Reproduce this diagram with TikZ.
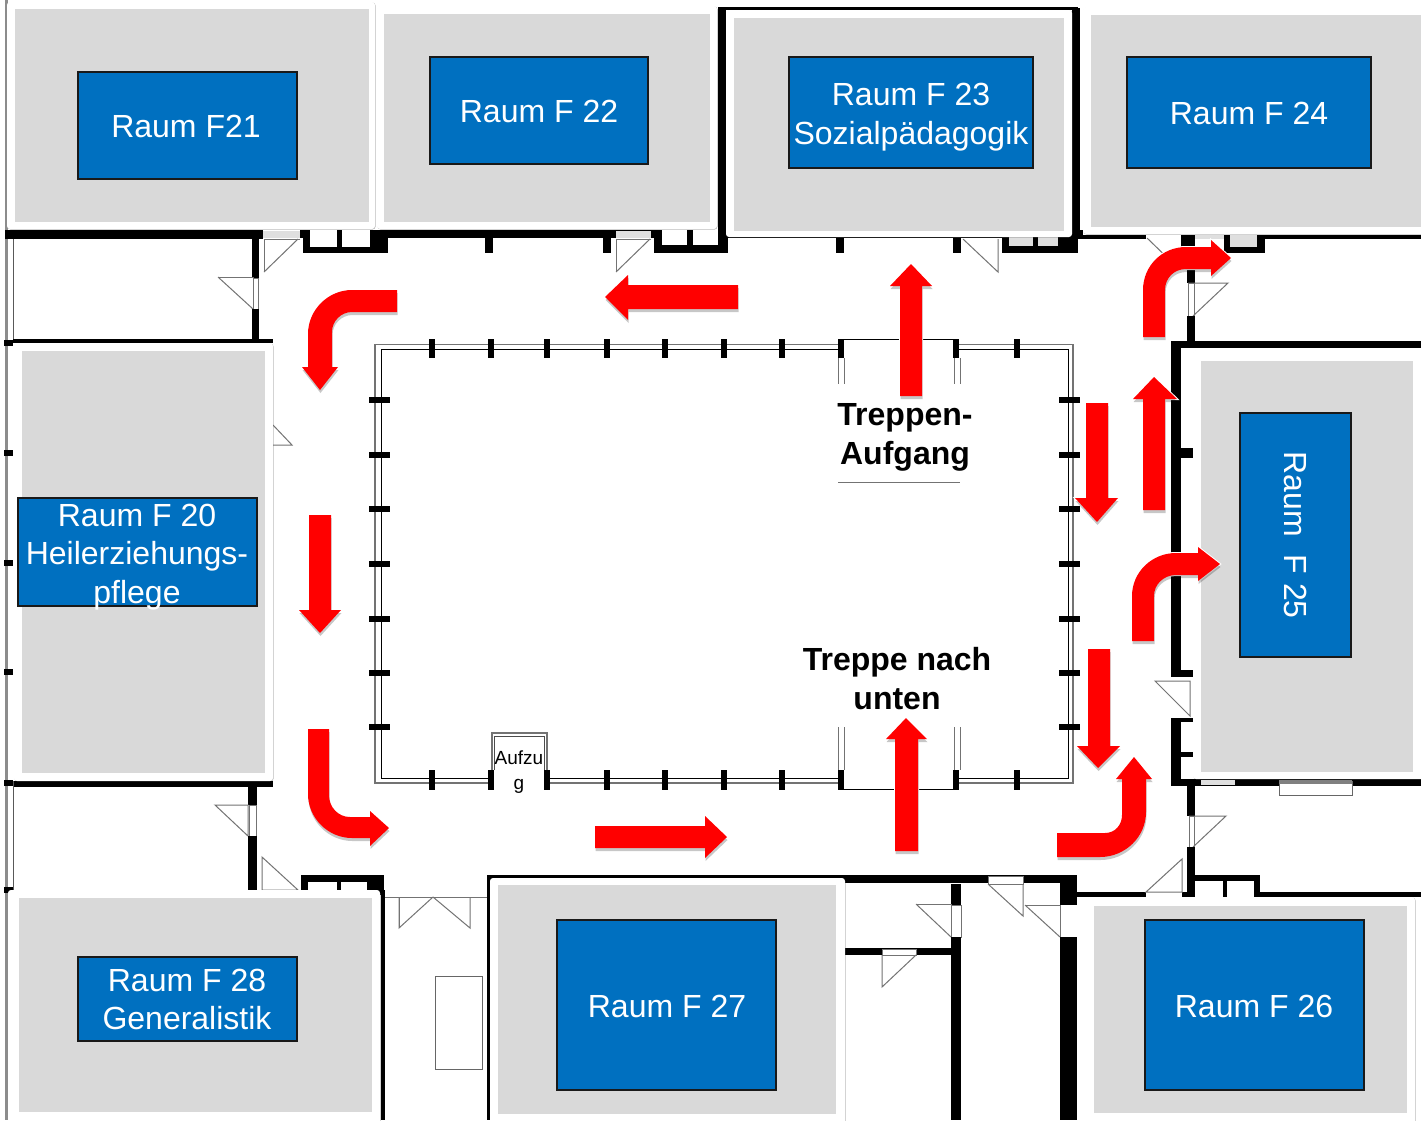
\documentclass[tikz,border=0pt]{standalone}
\usepackage{fontspec}
\setmainfont{Liberation Sans}
\usetikzlibrary{shadows}
\definecolor{roomgray}{RGB}{217,217,217}
\definecolor{roomblue}{RGB}{0,112,192}
\tikzset{
  wallfill/.style={fill=black},
  doorline/.style={draw=black!55,line width=1pt,line join=miter},
  glass/.style={draw=black!60,line width=1pt,fill=white},
  graypane/.style={fill=roomgray!85!white},
  roomshell/.style={fill=white,rounded corners=3pt,drop shadow={shadow xshift=0.5pt,shadow yshift=-0.5pt,fill=black,opacity=.3}},
  roomcore/.style={fill=roomgray},
  labelbox/.style={fill=roomblue,draw=black!90,line width=1.2pt},
  roomtext/.style={text=white,font=\fontsize{32}{38.5}\selectfont,align=center,inner sep=0pt},
  plantext/.style={text=black,font=\bfseries\fontsize{32}{39}\selectfont,align=center,inner sep=0pt},
  flowarrow/.style={fill=red,line join=miter,preaction={draw=white,line width=2pt},drop shadow={shadow xshift=0.5pt,shadow yshift=-3pt,fill=black,opacity=.22}},
}
\newcommand\wl[4]{\fill[wallfill] (#1,#2) rectangle (#3,#4);}
\newcommand\pane[4]{\fill[graypane] (#1,#2) rectangle (#3,#4);}
\newcommand\clr[4]{\fill[white] (#1,#2) rectangle (#3,#4);}
\newcommand\dr[6]{\draw[doorline] (#1,#2) -- (#3,#4) -- (#5,#6);}
\newcommand\roombox[9]{%
  \path[roomshell] (#2,#3) rectangle (#4,#5);
  \fill[roomcore] (#6,#7) rectangle (#8,#9);}
\newcommand\bluebox[4]{\path[labelbox] (#1,#2) rectangle (#3,#4);}
\begin{document}
\begin{tikzpicture}[x=1pt,y=-1pt]
\useasboundingbox (0,0) rectangle (1421,1120);
\fill[white] (0,0) rectangle (1421,1120);

% ---------- outer thin left wall
\draw[black!45,line width=2.4pt] (6.5,0) -- (6.5,1120);
\draw[black!65,line width=1pt] (13.5,238) -- (13.5,343) (13.5,781) -- (13.5,890);
\foreach \yy in {343,453,563,672,783,890} {\wl{4}{\yy-3}{13}{\yy+3}}

% ---------- top wall
\wl{5}{230}{263}{239}
\pane{263}{231}{300}{238}
\wl{300}{230}{1083}{238}
\clr{616}{231}{651}{238}\pane{616}{231}{651}{238}
% alcove 1
\wl{303}{230}{388}{253}
\clr{310}{230}{337}{247}\clr{342}{230}{370}{247}
% alcove 2
\wl{654}{230}{728}{253}
\clr{662}{230}{687}{245}\clr{693}{230}{718}{245}
% alcove 3
\wl{1002}{230}{1078}{253}
\pane{1009}{230}{1033}{246}\pane{1038}{230}{1058}{246}
% stubs top
\foreach \xx in {489,607,840,957} {\wl{\xx-4}{236}{\xx+4}{253}}
% top upper partitions
\wl{718}{8}{726}{237}\wl{718}{7}{1078}{10}\wl{1072}{8}{1080}{237}
% doors top
\dr{264}{272}{264}{239}{300}{239}
\draw[doorline] (264,272) -- (298,239);
\dr{616}{272}{616}{239}{651}{239}
\draw[doorline] (616,272) -- (650,239);
\dr{963}{239}{998}{272}{998}{239}

% ---------- top right
\wl{1078}{235}{1421}{239}
\clr{1146}{235}{1181}{239}
\wl{1181}{235}{1195}{252}
\pane{1195}{235}{1224}{239}
\wl{1224}{235}{1265}{253}
\pane{1230}{235}{1257}{247}
\wl{1187}{239}{1195}{283}
\clr{1188}{283}{1194}{316}
\draw[doorline] (1188,283) rectangle (1194,316);
\dr{1188}{283}{1228}{283}{1193}{316}
\wl{1187}{316}{1195}{341}
\draw[doorline] (1147,238) -- (1180,270);

% ---------- left upper room
\wl{252}{239}{259}{278}
\clr{253}{278}{258}{309}
\draw[doorline] (253,278) rectangle (258,309);
\dr{218}{277}{253}{277}{253}{309}
\draw[doorline] (218,277) -- (253,309);
\wl{252}{309}{259}{342}
\wl{13}{339}{273}{343}

% ---------- F25 wall
\wl{1171}{341}{1421}{348}
\wl{1171}{341}{1181}{677}
\wl{1171}{670}{1193}{677}
\wl{1181}{448}{1193}{458}
\wl{1171}{718}{1181}{786}
\wl{1171}{718}{1193}{722}
\wl{1171}{752}{1193}{757}
\wl{1171}{779}{1421}{786}
\pane{1201}{780}{1235}{785}
\draw[doorline] (1155,681) -- (1190,681) -- (1190,716) -- cycle;
\draw[glass] (1279,781) rectangle (1352,795);
\fill[black!50] (1279,780) rectangle (1352,784);

% ---------- lower right
\wl{1187}{786}{1195}{816}
\draw[doorline] (1189,816) rectangle (1194,847);
\dr{1189}{816}{1226}{816}{1193}{847}
\wl{1187}{847}{1195}{897}
\wl{1187}{875}{1260}{881}
\wl{1254}{875}{1260}{897}
\wl{1223}{881}{1227}{897}
\wl{1254}{892}{1421}{897}
\wl{1077}{892}{1146}{897}
\wl{1182}{892}{1195}{897}
\draw[doorline] (1146,892) -- (1182,859) -- (1182,892) -- cycle;

% ---------- lower middle
\wl{487}{875}{1077}{883}
\clr{988}{876}{1023}{883}
\draw[doorline] (988,876) rectangle (1023,884);
\dr{988}{884}{1023}{916}{1023}{884}
\wl{1060}{875}{1077}{905}
\clr{1060}{905}{1077}{937}
\dr{1025}{905}{1060}{905}{1060}{937}
\draw[doorline] (1025,905) -- (1060,937);
\wl{1060}{937}{1077}{1120}
\wl{951}{884}{961}{905}
\clr{951}{905}{961}{937}
\draw[doorline] (951,905) rectangle (961,937);
\dr{916}{904}{951}{904}{951}{937}
\draw[doorline] (916,904) -- (951,937);
\wl{951}{937}{961}{1120}
\wl{845}{948}{951}{955}
\clr{882}{949}{916}{955}
\draw[doorline] (882,949) rectangle (916,955);
\dr{882}{955}{882}{987}{916}{955}
\draw[black,line width=1pt] (844,880) -- (844,1120);

% ---------- lower left
\wl{14}{781}{273}{787}
\wl{248}{787}{257}{805}
\draw[doorline] (249,805) rectangle (256,836);
\draw[doorline] (215,805) -- (248,805) -- (248,836) -- cycle;
\wl{248}{836}{257}{890}
\draw[doorline] (262,890) -- (262,857) -- (298,890) -- cycle;
\wl{301}{875}{384}{895}
\clr{308}{882}{337}{895}\clr{341}{882}{367}{895}
\wl{381}{890}{385}{1120}
\draw[doorline] (385,897) -- (487,897);
\dr{399}{897}{399}{928}{433}{897}
\dr{433}{897}{470}{928}{470}{897}
\draw[doorline] (399,897) -- (399,928);
\draw[glass] (435,976) rectangle (482,1069);
\wl{487}{875}{491}{1120}

% ---------- inner courtyard
\draw[black!55,line width=1.6pt] (843,344.5) -- (375,344.5) -- (375,783) -- (843,783);
\draw[black!55,line width=1.6pt] (956,344.5) -- (1073,344.5) -- (1073,783) -- (956,783);
\draw[black,line width=1pt] (843,349.5) -- (381,349.5) -- (381,778) -- (843,778);
\draw[black,line width=1pt] (956,349.5) -- (1068,349.5) -- (1068,778) -- (956,778);
\clr{494}{774}{544}{792}
\draw[black,line width=1pt] (843,339) -- (956,339) (843,789) -- (956,789);
% stairs' side rails
\foreach \xx in {838.5,844.5,954,960} {
  \draw[black!55,line width=1pt] (\xx,358) -- (\xx,384);
  \draw[black!55,line width=1pt] (\xx,727) -- (\xx,770);
}
% ticks
\foreach \xx in {432,491,547,607,665,724,782,841,956,1017} {
  \wl{\xx-3}{339}{\xx+3}{358}
  \wl{\xx-3}{770}{\xx+3}{790}
}
\foreach \yy in {400,455,509,564,619,673,727} {
  \wl{369}{\yy-3}{390}{\yy+3}
  \wl{1059}{\yy-3}{1080}{\yy+3}
}
% elevator
\draw[black!55,line width=2pt] (491.5,770) -- (491.5,733) -- (547,733) -- (547,770);
\draw[black!70,line width=1pt] (494.5,770) -- (494.5,736) -- (544,736) -- (544,770);
\clr{495}{737}{543}{775}
\node[inner sep=0pt,align=center,font=\fontsize{19}{25}\selectfont] (aufzug) at (519,772) {Aufzu\\g};

% stair labels
\draw[black!55,line width=1pt] (838,482) -- (960,482);
\node[plantext] (treppauf) at (905,437.5) {Treppen-\\Aufgang};
\node[plantext] (treppab) at (897,679) {Treppe nach\\unten};

% door at room F 20
\draw[doorline] (273,425) -- (292,445) -- (273,445);

% ---------- rooms
\roombox{F21}{7}{2}{375}{229}{15}{9}{369}{222}
\roombox{F22}{377}{6}{717}{229}{384}{14}{710}{222}
\roombox{F23}{726}{10}{1072}{237}{734}{18}{1064}{231}
\roombox{F24}{1083}{7}{1425}{234}{1091}{15}{1425}{227}
\roombox{F25}{1193}{350}{1425}{779}{1201}{361}{1413}{772}
\roombox{F20}{14}{343}{273}{781}{22}{351}{265}{773}
\roombox{F28}{8}{890}{380}{1125}{19}{898}{372}{1112}
\roombox{F27}{490}{878}{845}{1125}{498}{885}{836}{1114}
\roombox{F26}{1086}{897}{1415}{1125}{1094}{906}{1407}{1113}

\bluebox{78}{72}{297}{179}
\bluebox{430}{57}{648}{164}
\bluebox{789}{57}{1033}{168}
\bluebox{1127}{57}{1371}{168}
\bluebox{1240}{413}{1351}{657}
\bluebox{18}{498}{257}{606}
\bluebox{78}{957}{297}{1041}
\bluebox{557}{920}{776}{1090}
\bluebox{1145}{920}{1364}{1090}

\node[roomtext] (rf21) at (186,126) {Raum F21};
\node[roomtext] (rf22) at (539,111) {Raum F 22};
\node[roomtext] (rf23) at (911,117) {Raum F 23\\Sozialpädagogik};
\node[roomtext] (rf24) at (1249,113) {Raum F 24};
\node[roomtext,rotate=-90] (rf25) at (1295,535) {Raum\hspace{9pt} F 25};
\node[roomtext] (rf20) at (137,557) {Raum F 20\\Heilerziehungs-\\pflege};
\node[roomtext] (rf28) at (187,999.5) {Raum F 28\\Generalistik};
\node[roomtext] (rf27) at (667,1006) {Raum F 27};
\node[roomtext] (rf26) at (1254,1006) {Raum F 26};

% ---------- straight arrows
\path[flowarrow] (738,285) -- (628,285) -- (628,275) -- (605,297) -- (628,320) -- (628,309) -- (738,309) -- cycle;
\path[flowarrow] (900,396) -- (900,286) -- (890,286) -- (911,264) -- (932,286) -- (922,286) -- (922,396) -- cycle;
\path[flowarrow] (309,515) -- (309,610) -- (299,610) -- (320,633) -- (341,610) -- (331,610) -- (331,515) -- cycle;
\path[flowarrow] (1086,403) -- (1086,498) -- (1075,498) -- (1097,522) -- (1118,498) -- (1108,498) -- (1108,403) -- cycle;
\path[flowarrow] (1143,510) -- (1143,399) -- (1133,399) -- (1154,377) -- (1177,399) -- (1165,399) -- (1165,510) -- cycle;
\path[flowarrow] (1088,649) -- (1088,746) -- (1077,746) -- (1098,768) -- (1120,746) -- (1110,746) -- (1110,649) -- cycle;
\path[flowarrow] (595,826) -- (705,826) -- (705,816) -- (727,837) -- (705,858) -- (705,848) -- (595,848) -- cycle;
\path[flowarrow] (895,851) -- (895,739) -- (886,739) -- (906,718) -- (927,739) -- (918,739) -- (918,851) -- cycle;

% ---------- bent arrows
\path[flowarrow] (397,290) -- (352,290) .. controls (328,290) and (308,310) .. (308,334) -- (308,367) -- (302,367) -- (320,390) -- (338,367) -- (332,367) -- (332,332) .. controls (332,321) and (341,312) .. (352,312) -- (397,312) -- cycle;
\path[flowarrow] (1143,337) -- (1143,290) .. controls (1143,266) and (1162,247) .. (1186,247) -- (1211,247) -- (1211,240) -- (1231,258) -- (1211,276) -- (1211,269) -- (1186,269) .. controls (1174,269) and (1165,278) .. (1165,290) -- (1165,337) -- cycle;
\path[flowarrow] (1132,641) -- (1132,596) .. controls (1132,572) and (1152,553) .. (1176,553) -- (1198,553) -- (1198,547) -- (1220,564) -- (1198,581) -- (1198,575) -- (1176,575) .. controls (1164,575) and (1154,584) .. (1154,596) -- (1154,641) -- cycle;
\path[flowarrow] (1057,833) -- (1105,833) .. controls (1115,833) and (1122,825) .. (1122,815) -- (1122,779) -- (1116,779) -- (1134,757) -- (1152,779) -- (1146,779) -- (1146,812) .. controls (1146,837) and (1125,857) .. (1100,857) -- (1057,857) -- cycle;
\path[flowarrow] (329,729) -- (329,795) .. controls (329,807) and (338,817) .. (350,817) -- (370,817) -- (370,811) -- (389,828) -- (370,846) -- (370,838) -- (352,838) .. controls (328,838) and (308,818) .. (308,794) -- (308,729) -- cycle;
\end{tikzpicture}
\end{document}
